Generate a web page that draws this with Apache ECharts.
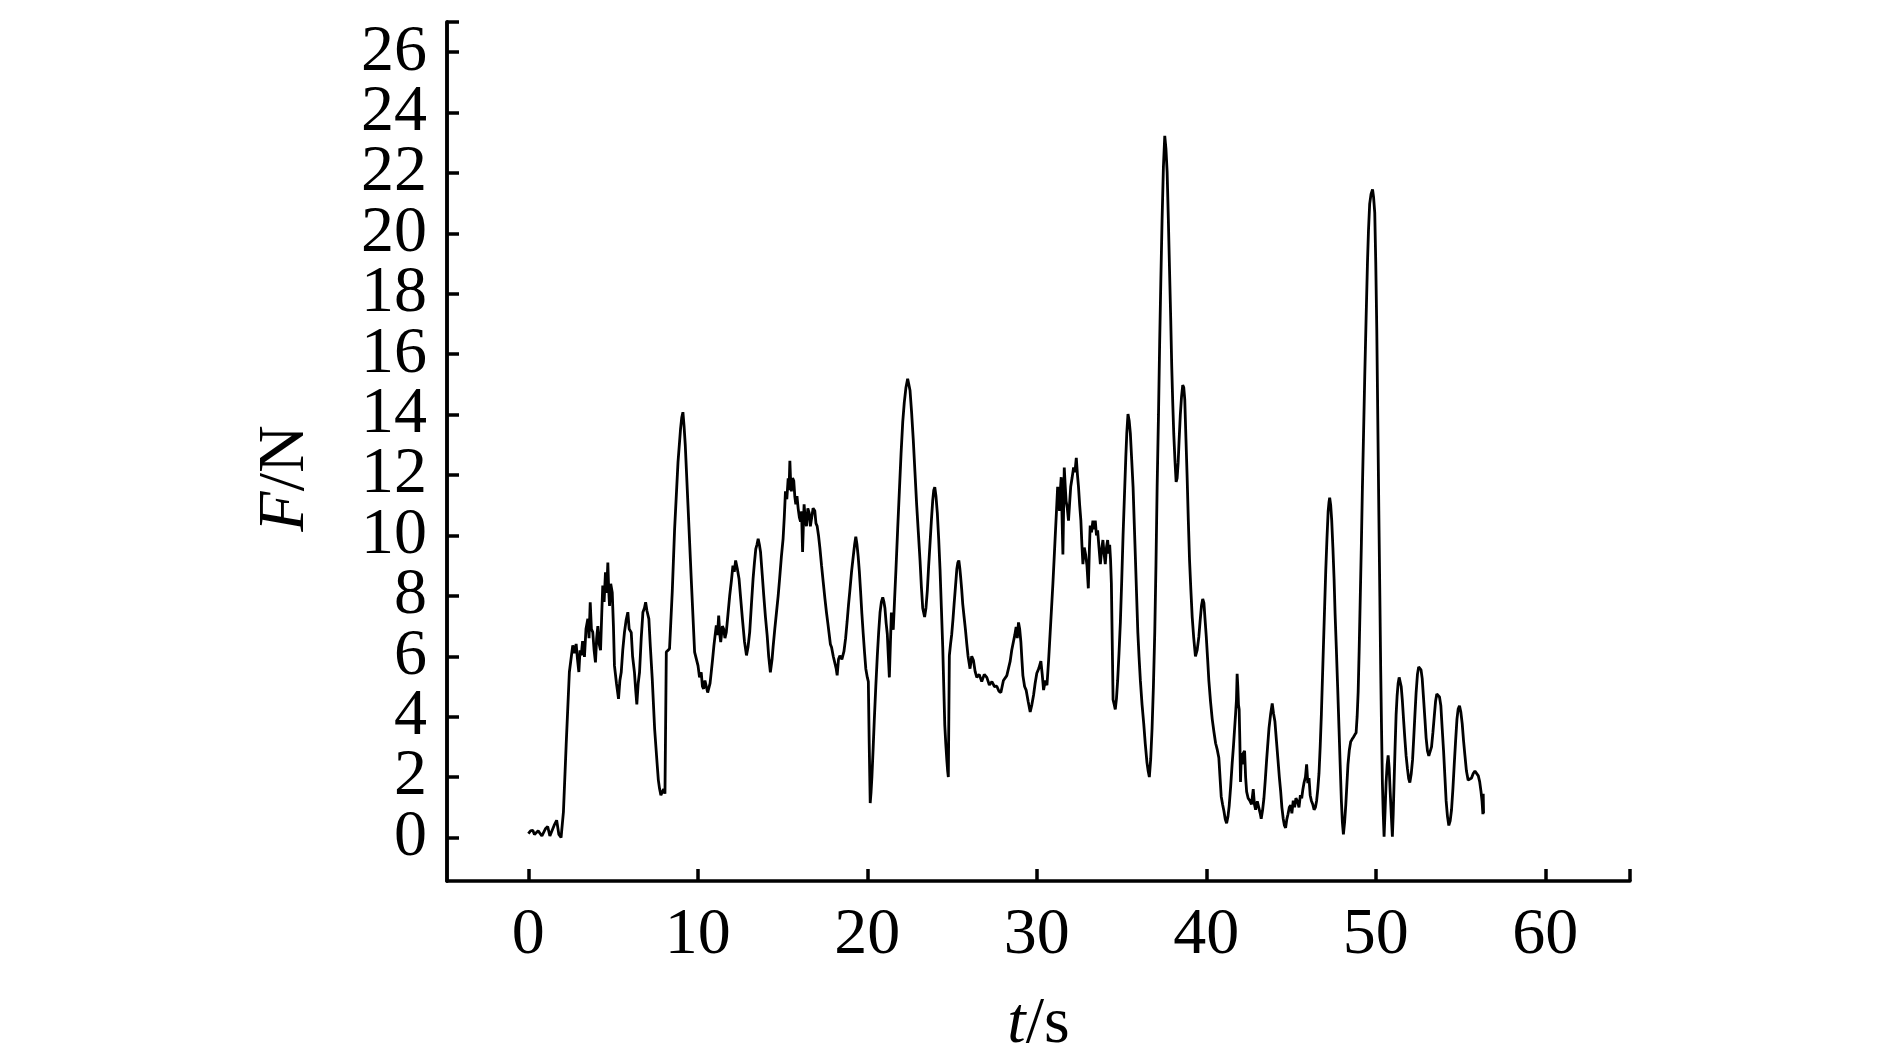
<!DOCTYPE html>
<html>
<head>
<meta charset="utf-8">
<script src="https://cdn.jsdelivr.net/npm/echarts@6/dist/echarts.min.js"></script>
<style>
  html, body { margin: 0; padding: 0; background: #fff; }
  #chart { width: 1890px; height: 1063px; }
</style>
</head>
<body>
<div id="chart"></div>
<script>
// readings, t in s
var timeS = [
  0.00,0.13,0.26,0.36,0.45,0.58,0.69,0.80,0.89,1.02,
  1.14,1.27,1.38,1.52,1.67,1.80,1.93,2.07,2.23,2.42,
  2.62,2.72,2.82,2.90,2.98,3.05,3.12,3.20,3.31,3.40,
  3.51,3.58,3.65,3.72,3.80,3.88,3.96,4.03,4.10,4.18,
  4.26,4.33,4.39,4.47,4.55,4.62,4.69,4.74,4.79,4.86,
  4.95,5.02,5.08,5.20,5.32,5.40,5.48,5.57,5.67,5.77,
  5.87,5.95,6.07,6.15,6.26,6.33,6.40,6.48,6.56,6.66,
  6.76,6.85,6.92,7.00,7.11,7.20,7.31,7.45,7.59,7.67,
  7.74,7.82,7.90,7.98,8.06,8.14,8.33,8.49,8.63,8.83,
  8.98,9.05,9.12,9.19,9.26,9.42,9.61,9.81,10.01,10.10,
  10.20,10.27,10.34,10.42,10.50,10.58,10.65,10.72,10.79,10.87,
  10.95,11.02,11.09,11.16,11.23,11.30,11.35,11.45,11.52,11.60,
  11.68,11.78,11.88,11.98,12.07,12.15,12.23,12.33,12.43,12.53,
  12.63,12.75,12.87,12.96,13.06,13.16,13.26,13.34,13.42,13.49,
  13.56,13.63,13.70,13.80,13.89,13.99,14.09,14.18,14.28,14.38,
  14.44,14.54,14.64,14.74,14.83,14.93,15.03,15.10,15.17,15.25,
  15.33,15.38,15.43,15.48,15.52,15.59,15.66,15.72,15.78,15.85,
  15.92,15.99,16.06,16.12,16.18,16.23,16.27,16.34,16.41,16.49,
  16.57,16.64,16.71,16.80,16.90,16.97,17.04,17.12,17.20,17.30,
  17.40,17.50,17.59,17.67,17.75,17.82,17.89,17.99,18.09,18.16,
  18.22,18.30,18.38,18.50,18.62,18.72,18.81,18.89,18.97,19.07,
  19.17,19.25,19.32,19.39,19.46,19.53,19.60,19.68,19.76,19.84,
  19.91,20.00,20.06,20.11,20.17,20.22,20.27,20.34,20.41,20.50,
  20.59,20.67,20.75,20.83,20.91,20.98,21.04,21.11,21.18,21.24,
  21.30,21.36,21.42,21.48,21.53,21.61,21.69,21.79,21.89,21.99,
  22.09,22.18,22.28,22.38,22.45,22.52,22.61,22.71,22.81,22.91,
  23.01,23.11,23.19,23.27,23.38,23.46,23.54,23.62,23.70,23.78,
  23.86,23.92,23.98,24.05,24.13,24.21,24.29,24.37,24.45,24.51,
  24.57,24.63,24.69,24.74,24.78,24.81,24.84,24.91,24.98,25.05,
  25.12,25.20,25.28,25.34,25.40,25.46,25.51,25.57,25.63,25.71,
  25.79,25.87,25.94,26.00,26.06,26.16,26.26,26.36,26.46,26.60,
  26.75,26.90,27.05,27.20,27.35,27.50,27.64,27.76,27.88,28.03,
  28.13,28.23,28.33,28.43,28.52,28.62,28.70,28.78,28.85,28.92,
  28.99,29.06,29.12,29.18,29.28,29.37,29.49,29.61,29.71,29.81,
  29.90,30.00,30.12,30.24,30.32,30.40,30.50,30.60,30.70,30.79,
  30.87,30.95,31.02,31.09,31.16,31.23,31.29,31.34,31.39,31.44,
  31.49,31.54,31.58,31.62,31.68,31.73,31.80,31.87,31.94,32.00,
  32.08,32.17,32.25,32.33,32.40,32.46,32.53,32.60,32.66,32.72,
  32.80,32.88,32.96,33.04,33.10,33.15,33.23,33.31,33.38,33.45,
  33.52,33.59,33.67,33.75,33.82,33.90,33.97,34.04,34.11,34.18,
  34.24,34.30,34.35,34.40,34.45,34.50,34.57,34.63,34.70,34.77,
  34.85,34.93,35.01,35.09,35.17,35.25,35.31,35.38,35.45,35.52,
  35.60,35.68,35.75,35.82,35.89,35.96,36.03,36.11,36.21,36.31,
  36.40,36.50,36.57,36.64,36.72,36.80,36.88,36.96,37.03,37.10,
  37.18,37.25,37.32,37.39,37.47,37.55,37.62,37.69,37.76,37.83,
  37.90,37.96,38.02,38.08,38.15,38.22,38.28,38.34,38.40,38.47,
  38.54,38.61,38.67,38.73,38.80,38.87,38.94,39.01,39.09,39.17,
  39.26,39.36,39.46,39.56,39.64,39.72,39.79,39.86,39.93,40.00,
  40.08,40.15,40.25,40.35,40.45,40.55,40.65,40.74,40.81,40.88,
  40.96,41.04,41.12,41.20,41.28,41.35,41.44,41.53,41.60,41.67,
  41.73,41.78,41.82,41.86,41.90,41.94,41.98,42.02,42.07,42.12,
  42.19,42.26,42.32,42.38,42.47,42.57,42.67,42.77,42.84,42.91,
  43.01,43.11,43.18,43.24,43.32,43.40,43.48,43.56,43.63,43.70,
  43.80,43.89,43.97,44.05,44.14,44.23,44.31,44.39,44.46,44.54,
  44.61,44.68,44.75,44.82,44.90,44.98,45.05,45.13,45.21,45.29,
  45.38,45.47,45.55,45.63,45.70,45.77,45.85,45.92,45.99,46.06,
  46.13,46.20,46.28,46.36,46.44,46.51,46.58,46.65,46.72,46.79,
  46.85,46.91,46.98,47.05,47.12,47.19,47.24,47.28,47.34,47.40,
  47.47,47.54,47.60,47.67,47.75,47.83,47.90,47.97,48.03,48.09,
  48.16,48.23,48.30,48.36,48.44,48.52,48.60,48.68,48.76,48.84,
  48.90,48.96,49.02,49.08,49.15,49.21,49.28,49.35,49.43,49.51,
  49.57,49.64,49.72,49.81,49.87,49.94,50.00,50.06,50.12,50.18,
  50.24,50.29,50.34,50.39,50.44,50.49,50.55,50.61,50.67,50.73,
  50.79,50.85,50.92,50.98,51.03,51.08,51.14,51.20,51.26,51.32,
  51.38,51.43,51.50,51.57,51.64,51.71,51.79,51.87,51.94,52.01,
  52.09,52.17,52.24,52.31,52.38,52.46,52.53,52.60,52.67,52.74,
  52.82,52.90,52.97,53.05,53.13,53.21,53.29,53.37,53.45,53.53,
  53.60,53.68,53.76,53.84,53.92,54.00,54.08,54.15,54.23,54.31,
  54.39,54.47,54.55,54.63,54.71,54.79,54.86,54.94,55.02,55.10,
  55.18,55.26,55.35,55.45,55.55,55.65,55.75,55.85,55.95,56.05,
  56.13,56.21,56.27,56.32,56.34,56.36
];

// force in N, same order as timeS
var forceN = [
  0.13,0.22,0.24,0.10,0.05,0.22,0.20,0.05,0.03,0.30,
  0.36,0.05,0.00,0.40,0.57,0.10,0.00,0.85,3.05,5.48,
  6.36,6.10,6.41,5.90,5.48,6.20,6.03,6.50,5.98,6.90,
  7.24,6.60,7.79,6.90,6.80,6.20,5.80,6.60,7.00,6.40,
  6.20,7.40,8.34,7.80,8.78,8.10,9.10,8.20,7.67,8.40,
  8.11,7.00,5.69,5.10,4.59,5.20,5.47,6.20,6.79,7.20,
  7.46,6.90,6.79,6.00,5.47,4.90,4.41,5.10,5.47,6.60,
  7.46,7.60,7.79,7.50,7.24,6.30,5.25,3.60,2.50,1.90,
  1.62,1.40,1.45,1.60,1.45,6.14,6.25,8.13,10.22,12.43,
  13.53,13.90,14.08,13.60,12.98,10.99,8.57,6.14,5.69,5.30,
  5.47,5.00,4.92,5.20,5.14,4.80,4.81,5.10,5.47,5.90,
  6.36,6.70,7.02,6.70,7.35,6.70,6.47,7.00,6.91,6.60,
  6.80,7.40,8.01,8.50,9.00,8.80,9.17,8.90,8.57,7.90,
  7.24,6.50,6.03,6.30,6.80,7.70,8.57,9.10,9.56,9.70,
  9.89,9.70,9.45,8.70,8.01,7.30,6.69,6.00,5.47,5.90,
  6.30,6.90,7.45,8.00,8.60,9.30,9.89,10.60,11.46,11.20,
  11.89,11.50,12.47,11.70,11.46,11.90,11.81,11.30,11.03,11.30,
  10.89,10.60,10.46,10.80,9.45,10.40,11.03,10.50,10.31,10.90,
  10.75,10.30,10.31,10.90,10.82,10.40,10.31,10.00,9.60,9.00,
  8.45,7.90,7.45,7.10,6.73,6.40,6.30,6.00,6.02,5.60,
  5.37,5.90,6.02,5.90,6.16,6.60,7.16,7.70,8.17,8.80,
  9.31,9.70,9.96,9.70,9.31,8.80,8.17,7.40,6.73,6.10,
  5.59,5.30,5.16,3.15,1.14,1.50,2.00,2.90,3.87,5.00,
  6.02,6.80,7.45,7.80,7.95,7.80,7.59,7.10,6.73,6.00,
  5.30,6.40,7.45,7.00,6.88,7.90,8.88,10.20,11.46,12.70,
  13.76,14.40,14.90,15.19,15.00,14.80,14.10,13.18,12.10,11.03,
  10.10,9.17,8.30,7.59,7.30,7.60,8.17,9.00,9.74,10.50,
  11.17,11.50,11.60,11.30,10.75,9.90,8.88,7.60,6.30,5.00,
  3.72,3.10,2.57,2.20,2.00,4.00,6.02,6.40,6.73,7.20,
  7.73,8.30,8.88,9.10,9.17,8.90,8.60,8.20,7.73,7.30,
  6.88,6.40,6.02,5.80,5.59,6.00,5.87,5.50,5.30,5.40,
  5.16,5.40,5.30,5.05,5.16,5.00,5.01,4.85,4.80,5.20,
  5.16,5.36,5.60,5.84,6.20,6.48,6.70,6.97,6.60,7.12,
  6.90,6.48,5.90,5.36,5.00,4.88,4.50,4.16,4.40,4.72,
  5.10,5.44,5.60,5.84,5.40,4.88,5.20,5.04,5.90,6.80,
  7.60,8.41,9.20,10.01,10.80,11.61,11.20,10.81,11.50,11.93,
  10.60,9.37,10.80,12.25,11.60,11.13,10.90,10.49,11.10,11.61,
  11.90,12.25,12.10,12.57,12.00,11.61,11.00,10.49,9.70,9.05,
  9.60,9.37,9.00,8.25,9.50,10.33,10.10,10.49,10.20,10.49,
  10.00,10.17,9.60,9.05,9.50,9.85,9.40,9.05,9.60,9.85,
  9.40,9.69,9.20,8.41,6.50,4.56,4.40,4.24,4.60,5.20,
  6.10,7.12,8.50,10.01,11.30,12.57,13.40,14.02,13.80,13.37,
  12.50,11.61,10.40,9.21,8.00,6.80,6.00,5.20,4.40,3.76,
  3.10,2.48,2.20,2.00,2.60,3.60,5.00,6.80,9.00,11.61,
  14.00,16.42,18.50,20.42,22.20,23.23,22.80,22.03,20.50,18.82,
  17.20,15.62,14.40,13.37,12.50,11.77,11.90,12.41,13.20,14.02,
  14.60,14.98,14.90,14.50,13.20,11.93,10.50,9.21,8.20,7.29,
  6.60,6.00,6.20,6.64,7.20,7.69,7.90,7.77,7.20,6.64,
  5.90,5.20,4.50,3.92,3.50,3.12,2.90,2.64,2.00,1.36,
  1.10,0.88,0.60,0.47,0.70,1.04,1.70,2.48,3.00,3.60,
  4.10,4.56,5.42,5.00,4.40,4.24,3.20,1.84,2.80,2.42,
  2.80,2.87,2.00,1.52,1.30,1.22,1.10,1.60,1.10,0.92,
  1.20,1.15,0.80,0.62,0.90,1.30,1.90,2.57,3.10,3.62,
  4.10,4.44,4.10,3.84,3.20,2.57,2.00,1.52,1.00,0.62,
  0.40,0.32,0.60,0.77,1.00,1.07,0.80,1.22,1.00,1.30,
  1.20,1.00,1.40,1.30,1.60,1.82,2.00,2.42,1.80,1.97,
  1.40,1.22,1.10,0.92,1.00,1.22,1.60,2.12,3.00,4.07,
  5.20,6.31,7.60,8.86,9.90,10.80,11.10,11.25,11.00,10.50,
  9.60,8.56,7.40,6.31,5.00,3.62,2.40,1.22,0.50,0.10,
  0.50,1.07,1.80,2.42,2.90,3.17,3.25,3.32,3.40,3.47,
  4.00,4.81,6.20,7.81,9.70,11.55,13.40,15.29,17.20,19.03,
  20.10,20.98,21.30,21.46,21.20,20.68,19.00,16.79,13.80,10.80,
  8.00,5.56,3.60,1.82,0.80,0.03,0.90,1.82,2.40,2.72,
  2.30,1.52,0.70,0.03,0.80,1.82,3.00,4.07,4.70,5.11,
  5.30,5.34,5.00,4.52,3.90,3.32,2.70,2.27,1.95,1.82,
  2.10,2.57,3.30,4.07,4.80,5.41,5.65,5.71,5.55,5.26,
  4.60,3.92,3.30,2.87,2.70,2.64,3.00,3.47,4.00,4.52,
  4.75,4.81,4.65,4.36,3.60,2.87,2.00,1.22,0.70,0.40,
  0.55,0.92,1.60,2.42,3.20,3.92,4.25,4.36,4.15,3.77,
  3.20,2.72,2.20,1.90,1.90,1.97,2.12,2.20,2.15,2.04,
  1.85,1.52,1.20,0.77,1.45,0.80
];

var xLabels = [0, 10, 20, 30, 40, 50, 60];
var xTicks = [0, 10, 20, 30, 40, 50, 60, 65];
// y labels are split over two stacked axes so echarts does not drop the crowded ones
var yLabelsA = [0, 4, 8, 12, 16, 20, 24];
var yLabelsB = [2, 6, 10, 14, 18, 22, 26];
var yTicks = [0, 2, 4, 6, 8, 10, 12, 14, 16, 18, 20, 22, 24, 26, 27];

var serif = 'Liberation Serif';
var points = timeS.map(function (t, i) { return [t, forceN[i]]; });

function yAxisBase(labels, ticks) {
    return {
        type: 'value',
        position: 'left',
        offset: 0,
        min: -1.44,
        max: 27,
        axisLine: { show: true, onZero: false, lineStyle: { color: '#000', width: 3.5 } },
        axisTick: { show: !!ticks, inside: true, length: 12, customValues: ticks || [], lineStyle: { color: '#000', width: 3.5 } },
        axisLabel: { show: true, customValues: labels, showMinLabel: true, showMaxLabel: true, margin: 20, fontFamily: serif, fontSize: 66, color: '#000' },
        splitLine: { show: false }
    };
}

var yMain = yAxisBase(yLabelsA, yTicks);
yMain.name = '{i|F}/N';
yMain.nameLocation = 'middle';
yMain.nameGap = 128;
yMain.nameTextStyle = {
    fontFamily: serif, fontSize: 66, color: '#000',
    padding: [0, 54, 0, 0],
    rich: { i: { fontFamily: serif, fontSize: 66, fontStyle: 'italic', color: '#000' } }
};
var ySecond = yAxisBase(yLabelsB, null);

var chart = echarts.init(document.getElementById('chart'));
var option = {
    animation: false,
    backgroundColor: '#fff',
    grid: { left: 447, right: 260, top: 22, bottom: 181 },
    xAxis: {
        type: 'value',
        min: -4.8,
        max: 65,
        name: '{i|t}/s',
        nameLocation: 'middle',
        nameGap: 111,
        nameTextStyle: {
            fontFamily: serif, fontSize: 66, color: '#000',
            rich: { i: { fontFamily: serif, fontSize: 66, fontStyle: 'italic', color: '#000' } }
        },
        axisLine: { show: true, onZero: false, lineStyle: { color: '#000', width: 3.5 } },
        axisTick: { show: true, inside: true, length: 12, customValues: xTicks, lineStyle: { color: '#000', width: 3.5 } },
        axisLabel: { show: true, customValues: xLabels, showMinLabel: true, showMaxLabel: true, margin: 22, fontFamily: serif, fontSize: 66, color: '#000' },
        splitLine: { show: false }
    },
    yAxis: [yMain, ySecond],
    series: [{
        type: 'line',
        yAxisIndex: 0,
        data: points,
        symbol: 'none',
        lineStyle: { color: '#000', width: 2.8 }
    }]
};
option && chart.setOption(option);
</script>
</body>
</html>
